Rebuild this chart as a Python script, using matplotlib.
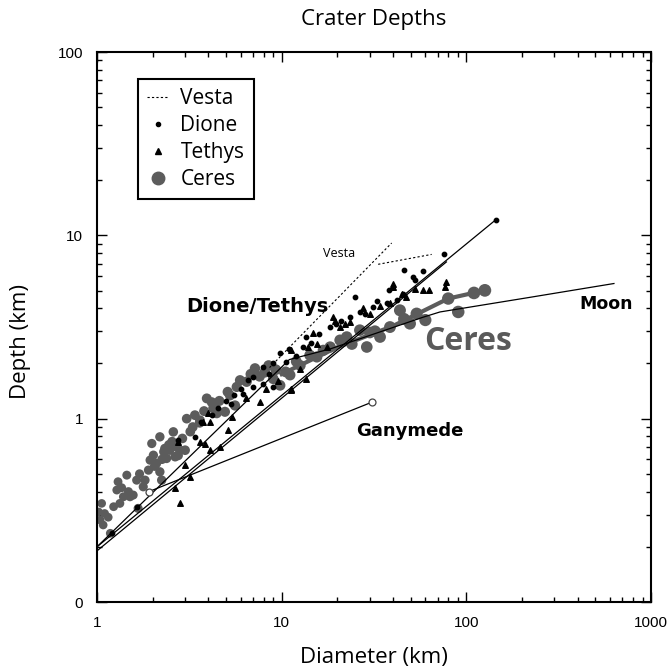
import matplotlib
matplotlib.use("Agg")
import numpy as np
import matplotlib.pyplot as plt
from matplotlib.ticker import FixedLocator, NullFormatter, FixedFormatter

# ---------------- data (km) ----------------
ceres_diam = [1.06, 1.04, 1.08, 1.10, 1.18, 1.23, 1.28, 1.30, 1.33, 1.39, 1.45, 1.51, 1.57,
              1.64, 1.67, 1.78, 1.82, 1.90, 1.94, 1.98, 2.02, 2.10, 2.19, 2.19, 2.24, 2.33,
              2.38, 2.48, 2.59, 2.70, 2.81, 3.00, 3.06, 3.39, 3.93, 4.18, 4.26, 4.45, 4.93,
              5.59, 5.71, 6.46, 2.25, 2.45, 2.65, 2.9, 3.2, 3.6, 5.25, 4.35, 3.61, 5.95,
              7.17, 8.1, 9.8, 11.1, 12.6, 14.2, 7.6, 9.0, 10.5, 15.5, 16.8, 18.3, 20.7,
              22.5, 26.5, 28.9, 34.1, 38.6, 43.7, 49.5, 53.8, 79.8, 90.4, 126.0, 30.0, 60.0,
              1.02, 1.15, 1.36, 1.48, 1.70, 2.05, 2.30, 2.55, 2.75, 3.3, 3.8, 4.6, 5.1,
              6.8, 8.5, 9.3, 12.0, 24.0, 32.0, 46.0, 110.0]
ceres_depth = [0.345, 0.280, 0.263, 0.304, 0.237, 0.331, 0.408, 0.453, 0.345, 0.375, 0.492,
               0.375, 0.383, 0.462, 0.324, 0.425, 0.462, 0.524, 0.594, 0.732, 0.632, 0.570,
               0.796, 0.513, 0.462, 0.688, 0.607, 0.673, 0.847, 0.702, 0.673, 0.673, 1.00,
               1.045, 1.29, 1.23, 1.14, 1.07, 1.09, 1.18, 1.49, 1.59, 0.60, 0.72, 0.62, 0.78,
               0.85, 0.95, 1.34, 1.19, 0.98, 1.62, 1.88, 1.79, 1.52, 1.73, 1.95, 2.22, 1.70,
               1.65, 1.80, 2.17, 2.36, 2.46, 2.68, 2.79, 3.04, 2.46, 2.79, 3.16, 3.90, 3.30,
               3.74, 4.52, 3.82, 5.01, 2.95, 3.45,
               0.31, 0.29, 0.42, 0.40, 0.50, 0.55, 0.66, 0.75, 0.63, 0.90, 1.10, 1.25, 1.40,
               1.75, 1.95, 1.85, 2.05, 2.55, 3.0, 3.5, 4.85]

dione_diam = [45.9, 58.0, 51.2, 75.6, 145.0, 24.9, 38.3, 42.0, 37.0, 26.5, 23.4, 18.3, 19.8,
              13.6, 13.1, 9.8, 9.0, 7.95, 7.0, 31.3, 28.2, 45.5, 52.7, 2.76, 3.39, 3.68,
              6.19, 7.0, 7.95, 9.0, 1.64, 1.2, 4.5, 5.0, 5.5, 6.0, 11.0, 16.0, 21.0, 33.0,
              8.5, 10.5, 12.0, 14.5, 6.6, 5.3, 4.2]
dione_depth = [6.5, 6.4, 5.93, 7.87, 12.2, 4.61, 5.01, 4.43, 4.25, 3.82, 3.59, 3.16, 3.30,
               2.79, 2.46, 2.27, 2.0, 1.92, 1.68, 4.06, 3.74, 4.81, 5.69, 0.763, 0.796, 0.96,
               1.37, 1.49, 1.55, 1.49, 0.331, 0.237, 1.15, 1.25, 1.35, 1.45, 2.40, 2.90, 3.40, 4.40,
               1.75, 2.05, 2.2, 2.6, 1.62, 1.2, 1.05]

tethys_diam = [78.0, 76.5, 62.6, 58.5, 52.7, 44.6, 38.6, 40.2, 47.4, 40.2, 27.6, 23.4, 19.4,
               22.0, 20.7, 19.0, 14.8, 15.5, 13.9, 11.3, 12.6, 13.6, 11.3, 17.5, 2.76, 3.0,
               3.19, 2.64, 2.81, 3.76, 4.09, 5.14, 4.63, 4.09, 3.61, 3.84, 7.63, 11.3, 5.35, 4.0,
               9.5, 8.2, 6.4, 30.0, 34.0]
tethys_depth = [5.57, 5.22, 5.01, 5.01, 5.12, 4.81, 4.25, 5.44, 4.61, 5.22, 3.99, 3.37, 3.42,
                3.30, 3.16, 3.59, 2.92, 2.57, 2.46, 2.36, 1.87, 1.65, 1.43, 2.46, 0.748, 0.558,
                0.482, 0.417, 0.345, 0.96, 0.96, 0.865, 0.701, 0.673, 0.748, 0.731, 1.23, 1.46,
                1.02, 1.07, 1.6, 1.45, 1.3, 3.7, 4.1]

# fitted / reference curves
dione_fit_diam = [1.0, 145.0]
dione_fit_depth = [0.2, 12.2]
tethys_fit_diam = [1.0, 78.0]
tethys_fit_depth = [0.19, 7.16]
moon_diam = [1.0, 11.0, 18.3, 58.0, 72.0, 221.0, 630.0]
moon_depth = [0.2, 2.1, 2.4, 3.57, 3.82, 4.59, 5.46]
ceres_fit_diam = [10.0, 20.0, 40.0, 79.8, 126.0]
ceres_fit_depth = [1.75, 2.45, 3.2, 4.52, 5.01]
ganymede_diam = [1.91, 30.8]
ganymede_depth = [0.40, 1.23]
vesta1_diam = [8.6, 39.4]
vesta1_depth = [1.9, 9.08]
vesta2_diam = [33.3, 64.9]
vesta2_depth = [6.95, 7.87]

x_ticks = [1, 10, 100, 1000]
x_ticklabels = ["1", "10", "100", "1000"]
y_ticks = [0.1, 1, 10, 100]
y_ticklabels = ["0", "1", "10", "100"]

# ---------------- figure ----------------
plt.rcParams['font.family'] = ['Open Sans', 'DejaVu Sans']
fig = plt.figure(figsize=(6.72, 6.71), dpi=100)
ax = fig.add_axes([97 / 672, 69 / 671, 554 / 672, 550 / 671])
ax.set_xscale('log')
ax.set_yscale('log')
ax.set_xlim(1, 1000)
ax.set_ylim(0.1, 100)

ceres_col = '#5c5c5c'
ax.plot(moon_diam, moon_depth, color='black', lw=0.9, zorder=3)
ax.plot(dione_fit_diam, dione_fit_depth, color='black', lw=0.9, zorder=3)
ax.plot(tethys_fit_diam, tethys_fit_depth, color='black', lw=0.9, zorder=3)
ax.plot(ganymede_diam, ganymede_depth, color='black', lw=0.9, zorder=3)
ax.plot(ganymede_diam, ganymede_depth, 'o', mfc='white', mec='#444444', ms=5, mew=0.9, zorder=5)
ax.plot(vesta1_diam, vesta1_depth, color='black', lw=0.8, ls=(0, (2, 2)), zorder=3)
ax.plot(vesta2_diam, vesta2_depth, color='black', lw=0.8, ls=(0, (2, 2)), zorder=3)

cd = np.array(ceres_diam)
sizes = 38 + 22 * np.log10(cd)
ax.scatter(ceres_diam, ceres_depth, s=sizes, color=ceres_col, edgecolors='none', zorder=2)
ax.plot(ceres_fit_diam, ceres_fit_depth, color=ceres_col, lw=3, zorder=2)
ax.scatter(dione_diam, dione_depth, s=10, color='black', marker='o', zorder=4)
ax.scatter(tethys_diam, tethys_depth, s=16, color='black', marker='^', zorder=4)

# legend
h_v, = ax.plot([], [], color='black', lw=0.8, ls=(0, (2, 2)))
h_d, = ax.plot([], [], 'o', color='black', ms=3)
h_t, = ax.plot([], [], '^', color='black', ms=4)
h_c, = ax.plot([], [], 'o', color=ceres_col, ms=9)
leg = ax.legend([h_v, h_d, h_t, h_c], ['Vesta', 'Dione', 'Tethys', 'Ceres'],
                loc='upper left', bbox_to_anchor=(0.0735, 0.951), borderaxespad=0,
                handlelength=1.0, handletextpad=0.6, labelspacing=0.28,
                fancybox=False, framealpha=1, edgecolor='black', borderpad=0.45,
                prop={'family': ['Open Sans', 'DejaVu Sans'], 'size': 15})
leg.get_frame().set_linewidth(1.5)

# annotations
bold_font = ['DejaVu Sans']
ax.text(20.4, 7.98, 'Vesta', fontsize=9, ha='center', va='center')
ax.text(7.35, 4.1, 'Dione/Tethys', fontsize=14, fontweight='bold', ha='center',
        va='center', family=bold_font)
ax.text(102, 2.64, 'Ceres', fontsize=23, fontweight='bold', color='#5a5a5a',
        ha='center', va='center')
ax.text(570, 4.2, 'Moon', fontsize=12.5, fontweight='bold', ha='center', va='center',
        family=bold_font)
ax.text(49.5, 0.855, 'Ganymede', fontsize=13, fontweight='bold', ha='center',
        va='center', family=bold_font)

# ticks
ax.xaxis.set_major_locator(FixedLocator(x_ticks))
ax.xaxis.set_major_formatter(FixedFormatter(x_ticklabels))
ax.yaxis.set_major_locator(FixedLocator(y_ticks))
ax.yaxis.set_major_formatter(FixedFormatter(y_ticklabels))
ax.xaxis.set_minor_formatter(NullFormatter())
ax.yaxis.set_minor_formatter(NullFormatter())
ax.tick_params(which='both', direction='in', top=True, right=True, width=1.0)
ax.tick_params(which='major', length=7, pad=10)
ax.tick_params(which='minor', length=3.5)
for lab in ax.get_xticklabels() + ax.get_yticklabels():
    lab.set_fontfamily(['Liberation Sans', 'DejaVu Sans'])
    lab.set_fontsize(11)
for sp in ax.spines.values():
    sp.set_linewidth(1.5)

ax.set_xlabel('Diameter (km)', fontsize=16, labelpad=12)
ax.set_ylabel('Depth (km)', fontsize=16, labelpad=20)
ax.yaxis.set_label_coords(-0.12, 0.4745)
fig.text(0.5 * (97 + 651) / 672, 1 - 20 / 671, 'Crater Depths', fontsize=16,
         ha='center', va='center', fontweight='medium')

fig.savefig('out.png', dpi=100)
